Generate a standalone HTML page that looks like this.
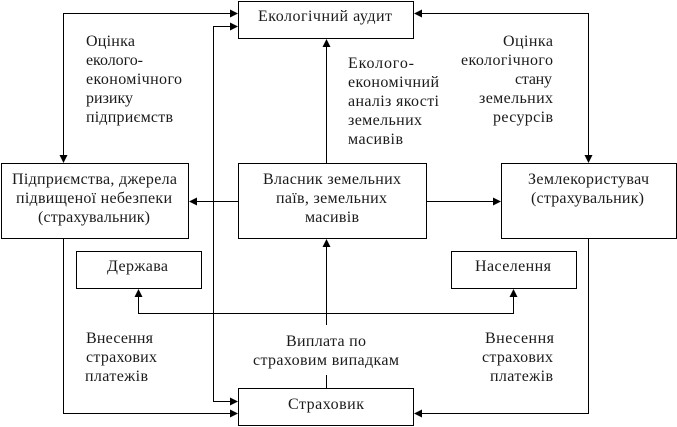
<!DOCTYPE html>
<html><head><meta charset="utf-8"><style>
html,body{margin:0;padding:0;background:#fff;width:677px;height:427px;overflow:hidden}
svg{display:block}
text{font-family:"Liberation Serif","DejaVu Serif",serif;font-size:16px;fill:#1a1a1a}
</style></head><body>
<svg width="677" height="427" viewBox="0 0 677 427" xmlns="http://www.w3.org/2000/svg">
<g fill="none" stroke="#000" stroke-width="1" shape-rendering="crispEdges">
<rect x="238.5" y="1.5" width="175" height="37"/>
<rect x="1.5" y="163.5" width="187" height="75"/>
<rect x="238.5" y="163.5" width="188" height="75"/>
<rect x="501.5" y="163.5" width="175" height="75"/>
<rect x="76.5" y="251.5" width="125" height="37"/>
<rect x="451.5" y="251.5" width="125" height="37"/>
<rect x="238.5" y="388.5" width="175" height="37"/>
<path d="M232 13.5H63.5V157"/>
<path d="M232 26.5H213.5V401.5H232"/>
<path d="M238 201.5H195"/>
<path d="M426 201.5H495"/>
<path d="M326.5 163V45"/>
<path d="M326.5 388V375"/>
<path d="M326.5 325V245"/>
<path d="M63.5 238V413.5H232"/>
<path d="M420 13.5H588.5V157"/>
<path d="M588.5 238V413.5H420"/>
<path d="M138.5 295V313.5H513.5V295"/>
</g>
<g fill="#000">
<path d="M238 13.5l-8-4v8z"/>
<path d="M238 26.5l-8-4v8z"/>
<path d="M238 401.5l-8-4v8z"/>
<path d="M238 413.5l-8-4v8z"/>
<path d="M414 13.5l8-4v8z"/>
<path d="M414 413.5l8-4v8z"/>
<path d="M63.5 163l-4-8h8z"/>
<path d="M588.5 163l-4-8h8z"/>
<path d="M189 201.5l8-4v8z"/>
<path d="M501 201.5l-8-4v8z"/>
<path d="M326.5 39l-4 8h8z"/>
<path d="M326.5 239l-4 8h8z"/>
<path d="M138.5 289l-4 8h8z"/>
<path d="M513.5 289l-4 8h8z"/>
</g>
<g>
<text x="258" y="21" textLength="134">Екологічний аудит</text>

<text x="86" y="46" textLength="49">Оцінка</text>
<text x="86" y="65" textLength="57">еколого-</text>
<text x="86" y="84" textLength="96">економічного</text>
<text x="86" y="103" textLength="47">ризику</text>
<text x="86" y="122" textLength="87">підприємств</text>

<text x="348" y="68" textLength="66">Еколого-</text>
<text x="348" y="87" textLength="91">економічний</text>
<text x="348" y="106" textLength="91">аналіз якості</text>
<text x="348" y="125" textLength="74">земельних</text>
<text x="348" y="144" textLength="55">масивів</text>

<text x="503" y="46" textLength="50">Оцінка</text>
<text x="461" y="65" textLength="92">екологічного</text>
<text x="515" y="84" textLength="37">стану</text>
<text x="479" y="103" textLength="74">земельних</text>
<text x="493" y="122" textLength="60">ресурсів</text>

<text x="12" y="184" textLength="165">Підприємства, джерела</text>
<text x="16" y="203" textLength="156">підвищеної небезпеки</text>
<text x="38" y="222" textLength="112">(страхувальник)</text>

<text x="263" y="184" textLength="138">Власник земельних</text>
<text x="276" y="203" textLength="111">паїв, земельних</text>
<text x="305" y="222" textLength="54">масивів</text>

<text x="528" y="184" textLength="121">Землекористувач</text>
<text x="531" y="203" textLength="113">(страхувальник)</text>

<text x="107" y="271" textLength="61">Держава</text>
<text x="475" y="271" textLength="76">Населення</text>

<text x="86" y="343" textLength="67">Внесення</text>
<text x="86" y="362" textLength="71">страхових</text>
<text x="85" y="381" textLength="63">платежів</text>

<text x="286" y="346" textLength="80">Виплата по</text>
<text x="253" y="365" textLength="146">страховим випадкам</text>

<text x="288" y="409" textLength="76">Страховик</text>

<text x="485" y="343" textLength="69">Внесення</text>
<text x="482" y="362" textLength="71">страхових</text>
<text x="490" y="381" textLength="63">платежів</text>
</g>
</svg>
</body></html>
